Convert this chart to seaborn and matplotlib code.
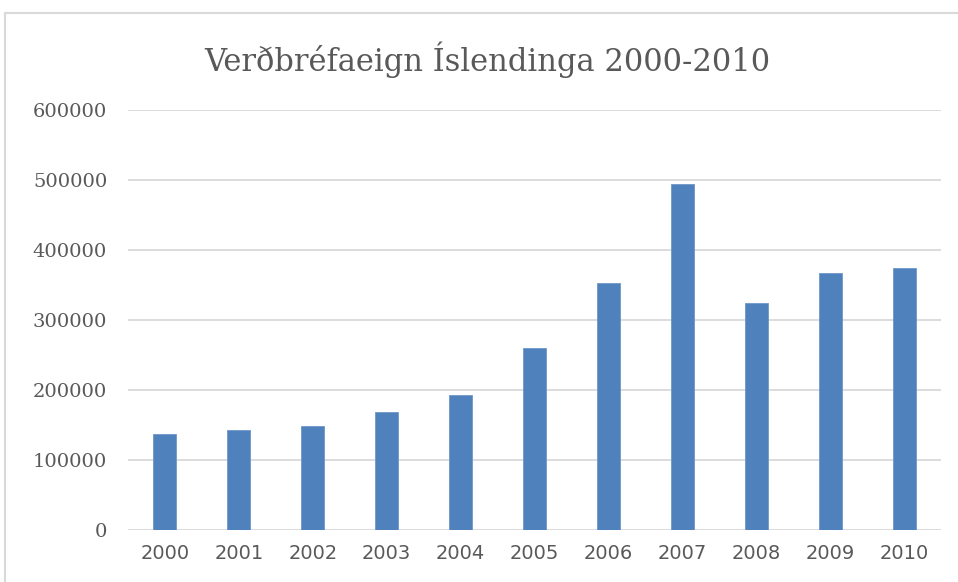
import matplotlib
matplotlib.use("Agg")
import matplotlib.pyplot as plt
import seaborn as sns
import pandas as pd
from matplotlib.patches import Rectangle

# data
years = ["2000", "2001", "2002", "2003", "2004", "2005",
         "2006", "2007", "2008", "2009", "2010"]
values = [137000, 142500, 148000, 168000, 193000, 259600,
          353300, 494700, 323800, 367600, 373800]
yticks = [0, 100000, 200000, 300000, 400000, 500000, 600000]

title = "Verðbréfaeign Íslendinga 2000-2010"

df = pd.DataFrame({"year": years, "value": values})

sns.set_style("white")
plt.rcParams['font.family'] = ['DejaVu Serif', 'DejaVu Sans']

fig = plt.figure(figsize=(9.58, 5.82), dpi=100)
ax = fig.add_axes([0.1336, 0.0893, 0.8487, 0.7217])

sns.barplot(data=df, x="year", y="value", color="#4f81bd", width=0.31,
            saturation=1, edgecolor="#6f97c8", linewidth=0.6, ax=ax, zorder=3)

ax.set_xlim(-0.5, 10.5)
ax.set_ylim(0, 600000)
ax.set_yticks(yticks)
ax.set_yticklabels([str(v) for v in yticks], family='DejaVu Serif',
                   fontsize=14, color="#595959")
ax.set_xticks(range(len(years)))
ax.set_xticklabels(years, family='DejaVu Sans', fontsize=14, color="#595959")
ax.tick_params(axis="y", length=0, pad=15)
ax.tick_params(axis="x", length=0, pad=10)

ax.grid(axis="y", color="#d9d9d9", linewidth=1.3, zorder=0)
ax.set_axisbelow(True)
for s in ax.spines.values():
    s.set_visible(False)
ax.set_xlabel("")
ax.set_ylabel("")

fig.text(0.509, 0.897, title, ha="center", va="center", fontsize=22,
         color="#595959", family='DejaVu Serif')

# chart area border (cut off at right and bottom)
fig.patches.append(Rectangle((5 / 958, -0.1), 1.2, 1 - 13 / 582 + 0.1,
                             transform=fig.transFigure, fill=False,
                             edgecolor="#d9d9d9", linewidth=1.5))

fig.savefig("out.png", dpi=100, facecolor="white")
